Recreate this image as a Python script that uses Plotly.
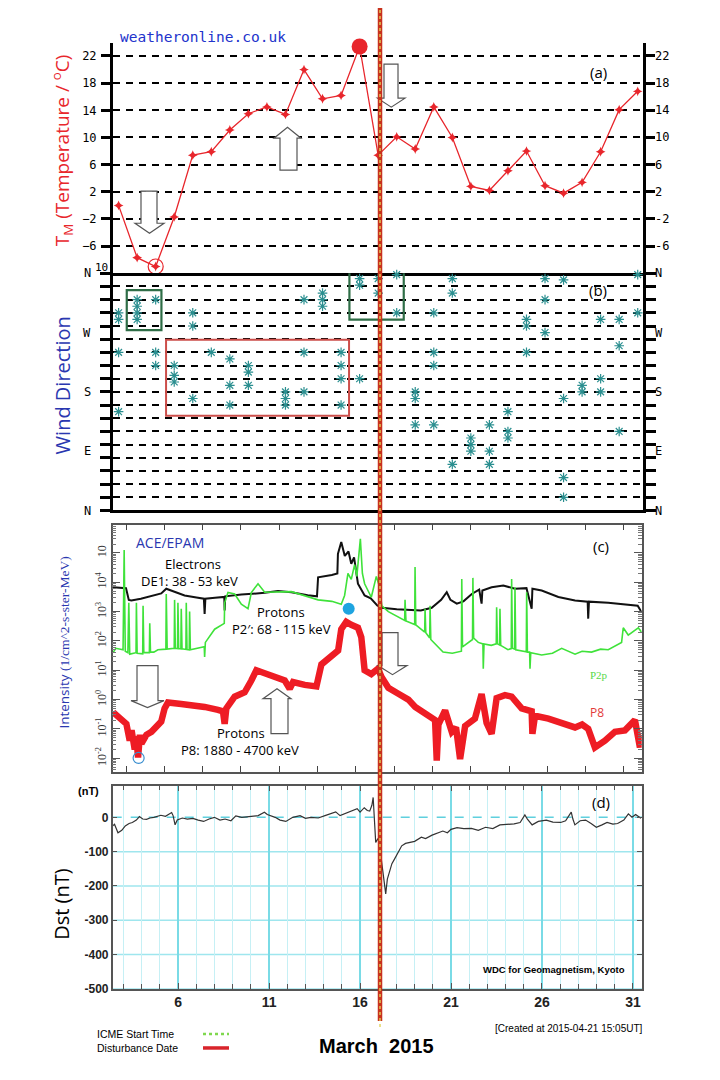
import math
import plotly.graph_objects as go

FIG_W, FIG_H = 720, 1080
PAGE_OFFSET = 8               # page body margin around the figure, px
PAGE_SCALE_Y = 1088 / 1080    # full page (margin + figure) is squeezed to the window height

# ------------------------------------------------------------------ data
# (a) daily mean temperature, degC
temp_days = list(range(3, 32))
temp_c = [0.0, -7.7, -9.0, -1.7, 7.4, 7.9, 11.1, 13.5, 14.5, 13.4,
          20.0, 15.7, 16.2, 23.4, 7.4, 10.1, 8.3, 14.5, 10.0, 2.8,
          2.2, 5.1, 8.0, 2.9, 1.8, 3.4, 7.9, 14.1, 16.8]
temp_ticks = [22, 18, 14, 10, 6, 2, -2, -6]
temp_peak_day = 16
temp_min_day = 5

# (b) wind direction observations (day, degrees; N=0/360, E=90, S=180, W=270)
wind_obs = [(3, 300), (3, 290), (3, 240), (3, 150),
            (4, 320), (4, 310), (4, 300), (4, 290),
            (5, 320), (5, 240), (5, 220),
            (6, 220), (6, 205), (6, 195),
            (7, 300), (7, 280), (7, 170),
            (8, 240),
            (9, 230), (9, 190), (9, 160),
            (10, 220), (10, 210), (10, 190),
            (12, 180), (12, 170), (12, 160),
            (13, 320), (13, 240), (13, 180),
            (14, 330), (14, 320), (14, 310),
            (15, 240), (15, 220), (15, 200), (15, 160),
            (16, 352), (16, 342), (16, 200),
            (17, 352), (17, 330),
            (18, 358), (18, 300),
            (19, 180), (19, 170), (19, 130),
            (20, 300), (20, 240), (20, 220), (20, 130),
            (21, 352), (21, 330), (21, 70),
            (22, 110), (22, 100), (22, 90),
            (23, 130), (23, 90), (23, 70),
            (24, 150), (24, 120), (24, 110),
            (25, 290), (25, 280), (25, 240),
            (26, 352), (26, 320), (26, 270),
            (27, 350), (27, 170), (27, 50), (27, 20),
            (28, 190), (28, 180),
            (29, 290), (29, 200), (29, 180),
            (30, 290), (30, 250), (30, 120),
            (31, 358), (31, 300)]
dir_ticks = list(range(0, 361, 20))
compass_vals = [0, 90, 180, 270, 360]
compass_text = ["N", "E", "S", "W", "N"]

# (c) ACE/EPAM intensities, log10(1/cm^2-s-ster-MeV)
electrons = [(2.70, 3.83), (3.40, 3.80), (3.55, 3.40), (3.69, 3.38), (4.20, 3.44),
             (4.59, 3.50), (5.30, 3.62), (5.57, 3.78), (6.00, 3.68), (6.56, 3.55),
             (7.20, 3.48), (7.60, 3.44), (7.64, 2.92), (7.68, 3.44), (8.20, 3.47),
             (8.70, 3.50), (8.72, 3.04), (8.75, 3.52), (9.62, 3.58), (10.88, 3.64),
             (11.60, 3.70), (12.32, 3.66), (13.20, 3.56), (13.70, 3.52), (13.76, 4.17),
             (14.10, 4.20), (14.50, 4.25), (14.80, 4.30), (14.83, 4.97), (15.01, 5.37),
             (15.20, 4.90), (15.40, 5.05), (15.55, 4.63), (15.70, 4.85), (15.91, 3.95),
             (16.27, 3.55), (16.60, 3.45), (16.95, 3.21), (17.19, 3.13), (18.00, 3.08),
             (18.63, 3.05), (19.30, 3.04), (19.89, 3.13), (20.40, 3.40), (20.70, 3.66),
             (20.90, 3.40), (21.24, 3.27), (21.60, 3.35), (22.05, 3.60), (22.45, 3.75),
             (22.58, 3.27), (22.62, 3.72), (23.12, 3.83), (23.75, 3.89), (24.38, 3.78),
             (25.00, 3.80), (25.28, 3.10), (25.32, 3.78), (25.82, 3.72), (26.72, 3.50),
             (27.62, 3.38), (28.30, 3.34), (28.33, 2.76), (28.37, 3.34), (29.41, 3.30),
             (30.31, 3.24), (31.00, 3.20), (31.21, 2.98)]
protons_p2 = [(2.70, 1.60), (2.85, 1.75), (3.24, 1.70), (3.30, 5.10), (3.36, 1.65),
              (3.50, 1.60), (3.55, 3.30), (3.60, 1.55), (3.94, 1.60), (3.96, 3.30),
              (4.00, 1.58), (4.30, 1.56), (4.32, 3.20), (4.36, 1.60), (4.66, 1.60),
              (4.68, 2.60), (4.72, 1.62), (4.90, 1.62), (5.12, 1.70), (5.55, 1.72),
              (5.57, 3.60), (5.62, 1.72), (6.00, 1.75), (6.02, 3.40), (6.06, 1.75),
              (6.18, 1.74), (6.20, 3.30), (6.24, 1.74), (6.36, 1.73), (6.38, 3.10),
              (6.42, 1.73), (6.63, 1.71), (6.65, 3.30), (6.69, 1.71), (6.81, 1.70),
              (6.83, 3.00), (6.87, 1.70), (7.40, 1.78), (7.62, 1.80), (7.64, 1.45),
              (7.68, 1.95), (8.18, 2.40), (8.60, 2.55), (8.70, 2.60), (8.72, 3.30),
              (8.90, 3.65), (9.26, 3.60), (9.62, 3.25), (9.98, 3.10), (10.16, 3.65),
              (10.52, 3.95), (10.88, 3.66), (12.32, 3.68), (13.76, 3.40), (14.50, 3.35),
              (15.01, 3.25), (15.19, 3.55), (15.37, 4.30), (15.55, 4.10), (15.73, 4.60),
              (15.85, 4.20), (16.04, 5.48), (16.15, 4.30), (16.27, 3.95), (16.63, 3.49),
              (16.90, 4.20), (17.05, 3.90), (17.20, 3.20), (17.55, 3.00), (18.00, 2.85),
              (18.43, 2.70), (18.45, 3.40), (18.50, 2.68), (18.97, 2.56), (18.99, 4.52),
              (19.03, 2.55), (19.51, 2.30), (19.53, 3.10), (19.57, 2.28), (19.78, 2.10),
              (19.80, 3.20), (19.84, 2.05), (20.50, 1.62), (21.00, 1.58), (21.49, 1.65),
              (21.51, 4.11), (21.55, 1.80), (22.09, 2.05), (22.11, 4.15), (22.15, 2.10),
              (22.40, 1.95), (22.65, 1.90), (22.67, 1.05), (22.71, 1.90), (23.10, 1.85),
              (23.37, 1.90), (23.39, 3.15), (23.43, 1.90), (23.55, 1.86), (23.57, 3.10),
              (23.61, 1.85), (24.00, 1.70), (24.18, 1.74), (24.20, 4.11), (24.24, 1.75),
              (24.36, 1.72), (24.38, 3.83), (24.42, 1.70), (24.99, 1.63), (25.01, 3.66),
              (25.05, 1.62), (25.17, 1.62), (25.19, 1.05), (25.23, 1.60), (25.82, 1.52),
              (26.40, 1.58), (26.90, 1.75), (27.62, 1.55), (28.00, 1.65), (28.51, 1.62),
              (29.00, 1.72), (29.41, 1.70), (30.13, 1.95), (30.22, 2.45), (30.49, 2.20),
              (31.03, 2.45), (31.21, 2.30)]
protons_p8 = [(2.70, -0.43), (2.97, -0.60), (3.24, -0.75), (3.42, -0.83), (3.60, -1.40),
              (3.70, -1.05), (3.87, -1.70), (3.95, -1.25), (4.05, -1.97), (4.15, -1.20),
              (4.23, -1.50), (4.50, -1.20), (4.77, -1.10), (5.04, -0.95), (5.30, -0.75),
              (5.48, -0.30), (5.66, -0.10), (6.38, -0.15), (7.10, -0.20), (7.64, -0.25),
              (8.36, -0.35), (8.63, -0.40), (8.72, -0.83), (8.81, -0.30), (9.26, 0.10),
              (9.80, 0.25), (10.16, 0.65), (10.43, 1.00), (10.88, 0.90), (11.42, 0.75),
              (11.96, 0.65), (12.23, 0.37), (12.41, 0.60), (13.04, 0.50), (13.67, 0.45),
              (13.94, 1.20), (14.30, 1.40), (14.84, 1.67), (15.01, 2.40), (15.28, 2.65),
              (15.55, 2.55), (15.91, 2.45), (16.09, 2.13), (16.27, 1.00), (16.63, 0.87),
              (16.99, 1.05), (17.19, 0.76), (17.55, 0.40), (18.09, 0.20), (18.63, 0.00),
              (19.00, -0.25), (19.35, -0.40), (19.70, -0.55), (20.07, -0.70), (20.16, -2.08),
              (20.25, -0.85), (20.61, -0.37), (20.97, -1.10), (21.20, -0.95), (21.42, -2.03),
              (21.69, -0.90), (22.22, -0.65), (22.58, 0.19), (22.85, -0.80), (23.12, -1.17),
              (23.39, 0.05), (23.84, 0.15), (24.20, 0.10), (24.74, -0.30), (25.28, -0.40),
              (25.32, -1.17), (25.46, -0.55), (26.18, -0.65), (26.90, -0.80), (27.62, -0.95),
              (28.00, -0.85), (28.33, -1.00), (28.69, -1.63), (29.23, -1.40), (29.77, -1.10),
              (30.31, -1.05), (30.85, -0.70), (31.12, -1.63), (31.21, -1.20)]
intensity_decades = [-2, -1, 0, 1, 2, 3, 4, 5]
intensity_labels = ["10<sup>-2</sup>", "10<sup>-1</sup>", "10<sup>0</sup>", "10<sup>1</sup>",
                    "10<sup>2</sup>", "10<sup>3</sup>", "10<sup>4</sup>", "10"]
p8_peak_marker = (15.41, 3.10)
p8_min_marker = (4.08, -1.99)

# (d) Dst index, nT
dst = [(2.40, -25), (2.50, -20), (2.69, -45), (2.90, -38), (3.09, -25), (3.30, -18),
       (3.48, -15), (3.70, -8), (3.87, 2), (4.05, -5), (4.26, -6), (4.45, -2),
       (4.66, 0), (4.85, 4), (5.05, 6), (5.30, 3), (5.50, 10), (5.64, 14),
       (5.72, 5), (5.83, -22), (5.95, -8), (6.23, -2), (6.50, -5), (6.81, -3),
       (7.10, -8), (7.40, -12), (7.70, -5), (7.99, 0), (8.30, -8), (8.58, -5),
       (8.90, -10), (9.17, 4), (9.50, 0), (9.95, 3), (10.40, 5), (10.74, 15),
       (10.90, 8), (11.33, 0), (11.60, -8), (11.92, -12), (12.30, 0), (12.70, 5),
       (13.00, -3), (13.29, 0), (13.70, -2), (14.07, 5), (14.40, 10), (14.66, 16),
       (14.90, 5), (15.25, 12), (15.50, 18), (15.84, 25), (16.00, 15), (16.23, 28),
       (16.40, 20), (16.53, 18), (16.65, 35), (16.72, 58), (16.76, 20), (16.86, -73),
       (16.95, -65), (17.02, -60), (17.21, -140), (17.35, -200), (17.41, -223), (17.50, -180),
       (17.61, -160), (17.75, -135), (17.90, -121), (18.10, -100), (18.29, -83), (18.50, -76),
       (18.78, -73), (19.00, -70), (19.37, -58), (19.60, -62), (19.96, -52), (20.20, -48),
       (20.55, -40), (20.80, -45), (21.00, -35), (21.33, -30), (21.70, -33), (22.12, -32),
       (22.50, -38), (22.90, -29), (23.30, -33), (23.69, -22), (24.10, -20), (24.47, -19),
       (24.80, -15), (25.06, 7), (25.20, -5), (25.46, -22), (25.80, -12), (26.24, -8),
       (26.60, -14), (27.03, -15), (27.30, -10), (27.61, 15), (27.70, -5), (27.81, -22),
       (28.10, -10), (28.40, -8), (28.70, -18), (28.99, -29), (29.30, -22), (29.58, -15),
       (29.90, -20), (30.16, -18), (30.50, -8), (30.75, 10), (30.95, 0), (31.15, 8),
       (31.44, -3)]
dst_ticks = [0, -100, -200, -300, -400, -500]
dst_tick_text = ["0", "-100", "-200", "-300", "-400", "-500"]
day_labels = [6, 11, 16, 21, 26, 31]

icme_day = 17.1          # ICME start / disturbance date (panel a day scale)

# ------------------------------------------------------------------ styles
RED = "#e8262c"
TEAL = "#2b8f90"
BLUE = "#2a37b0"
MONO = "DejaVu Sans Mono"
SANS = "Open Sans"
ARIAL = "Liberation Sans"
SERIF = "Liberation Serif"


def P(x, y):
    """screen pixel (as seen in the photographed page) -> paper fraction"""
    fx = x - PAGE_OFFSET
    fy = y * PAGE_SCALE_Y - PAGE_OFFSET
    return fx / FIG_W, 1 - fy / FIG_H


def xdom(x0, x1):
    return [P(x0, 0)[0], P(x1, 0)[0]]


def ydom(top, bottom):
    return [P(0, bottom)[1], P(0, top)[1]]


def block_arrow(sl, sr, hl, hr, tail_y, base_y, tip_y):
    tip_x = (hl + hr) / 2
    pts = [(sl, tail_y), (sr, tail_y), (sr, base_y), (hr, base_y),
           (tip_x, tip_y), (hl, base_y), (sl, base_y)]
    path = "M " + " L ".join("%.5f,%.5f" % P(x, y) for x, y in pts) + " Z"
    return dict(type="path", xref="paper", yref="paper", path=path,
                fillcolor="white", line=dict(color="#555555", width=1.2), layer="above")


fig = go.Figure()

# ---------------- panel (a)
fig.add_trace(go.Scatter(x=temp_days, y=temp_c, mode="lines+markers", xaxis="x", yaxis="y",
                         line=dict(color=RED, width=1.3),
                         marker=dict(symbol="star-diamond", size=7, color=RED),
                         hoverinfo="skip", cliponaxis=False))
pk = temp_days.index(temp_peak_day)
fig.add_trace(go.Scatter(x=[temp_days[pk]], y=[temp_c[pk]], mode="markers", xaxis="x", yaxis="y",
                         marker=dict(size=16, color=RED), cliponaxis=False, hoverinfo="skip"))
mn = temp_days.index(temp_min_day)
fig.add_trace(go.Scatter(x=[temp_days[mn]], y=[temp_c[mn]], mode="markers", xaxis="x", yaxis="y",
                         marker=dict(symbol="circle-open", size=15, color=RED, line=dict(width=1.2)),
                         cliponaxis=False, hoverinfo="skip"))

# ---------------- panel (b)
fig.add_trace(go.Scatter(x=[d for d, _ in wind_obs], y=[v for _, v in wind_obs], mode="markers",
                         xaxis="x2", yaxis="y2",
                         marker=dict(symbol="asterisk-open", size=8, color=TEAL,
                                     line=dict(color=TEAL, width=1.2)),
                         cliponaxis=False, hoverinfo="skip"))

# ---------------- panel (c)
for series, color, width in [(electrons, "#111111", 2.0), (protons_p2, "#3fe23a", 1.6),
                             (protons_p8, "#ee1c24", 6.5)]:
    fig.add_trace(go.Scatter(x=[d for d, _ in series], y=[v for _, v in series], mode="lines",
                             xaxis="x3", yaxis="y3", line=dict(color=color, width=width),
                             hoverinfo="skip"))
fig.add_trace(go.Scatter(x=[p8_peak_marker[0]], y=[p8_peak_marker[1]], mode="markers",
                         xaxis="x3", yaxis="y3", marker=dict(size=12, color="#1ea4e0"),
                         hoverinfo="skip"))
fig.add_trace(go.Scatter(x=[p8_min_marker[0]], y=[p8_min_marker[1]], mode="markers",
                         xaxis="x3", yaxis="y3",
                         marker=dict(symbol="circle-open", size=11, color="#3a8fd0",
                                     line=dict(width=1.2)), hoverinfo="skip"))

# ---------------- panel (d)
fig.add_trace(go.Scatter(x=[d for d, _ in dst], y=[v for _, v in dst], mode="lines",
                         xaxis="x4", yaxis="y4", line=dict(color="#333333", width=1.2),
                         hoverinfo="skip"))

# ------------------------------------------------------------------ axes
XD_AB = xdom(113, 643)
XR_AB = [2.698, 31.285]
TEMP_RANGE = [-10, 23.9]
mono_tick = dict(family=MONO, size=12, color="black")
dash_grid = dict(showgrid=True, gridcolor="black", gridwidth=2, griddash="7px,6px")

minor_log = [n + math.log10(k) for n in range(-3, 6) for k in range(2, 10)]

fig.update_layout(
    width=FIG_W, height=FIG_H, margin=dict(l=0, r=0, t=0, b=0),
    paper_bgcolor="white", plot_bgcolor="white", showlegend=False,
    # (a)
    xaxis=dict(domain=XD_AB, range=XR_AB, anchor="y", showline=True, linecolor="black",
               linewidth=3, showticklabels=False, ticks="", showgrid=False, zeroline=False),
    yaxis=dict(domain=ydom(43, 273), range=TEMP_RANGE, anchor="x",
               tickvals=temp_ticks, ticks="outside", ticklen=9, tickwidth=3, tickcolor="black",
               showline=True, linewidth=3, linecolor="black", mirror="ticks",
               tickfont=mono_tick, zeroline=False, ticklabelstandoff=2, **dash_grid),
    # (b)
    xaxis2=dict(domain=XD_AB, range=XR_AB, anchor="y2", showline=True, linecolor="black",
                linewidth=3, showticklabels=False, ticks="", showgrid=False, zeroline=False),
    yaxis2=dict(domain=ydom(273, 510), range=[0, 360], anchor="x2",
                tickvals=dir_ticks, showticklabels=False, ticks="outside", ticklen=10,
                tickwidth=3, tickcolor="black", showline=True, linewidth=3, linecolor="black",
                mirror="ticks", zeroline=False, **dash_grid),
    # (c)
    xaxis3=dict(domain=xdom(112.5, 641.7), range=[2.671, 31.215], anchor="y3",
                showline=True, linecolor="#555555", linewidth=1.5, mirror="ticks",
                ticks="inside", tick0=3.40, dtick=2.066, ticklen=6, tickcolor="#444444",
                showticklabels=False, showgrid=False, zeroline=False),
    yaxis3=dict(domain=ydom(524, 771), range=[-2.46, 5.97], anchor="x3",
                tickvals=intensity_decades, ticktext=intensity_labels, tickangle=-90,
                ticks="inside", ticklen=8, tickcolor="#555555", showline=True,
                linecolor="#555555", linewidth=1.5, mirror="allticks", showgrid=False,
                zeroline=False, tickfont=dict(family=SERIF, size=12, color="#333333"),
                minor=dict(tickvals=minor_log, ticks="inside", ticklen=4, tickcolor="#777777")),
    # (d)
    xaxis4=dict(domain=xdom(112.7, 642), range=[2.40, 31.50], anchor="y4",
                tickvals=day_labels, ticks="inside", ticklen=6, tickcolor="#555555",
                showgrid=True, gridcolor="#7adbe6", gridwidth=2,
                minor=dict(dtick=1, tick0=0, ticks="inside", ticklen=5, tickcolor="#555555",
                           showgrid=True, gridcolor="#c6f0f5", gridwidth=1),
                showline=True, linecolor="#555555", linewidth=1.5, mirror="allticks",
                zeroline=False, tickfont=dict(family=ARIAL, size=14, color="#222222",
                                              weight="bold")),
    yaxis4=dict(domain=ydom(785, 988), range=[-500, 92], anchor="x4",
                tickvals=dst_ticks, ticktext=dst_tick_text,
                ticks="inside", ticklen=5, tickcolor="#555555", showgrid=False,
                showline=True, linecolor="#555555", linewidth=1.5, mirror="allticks",
                zeroline=False, tickfont=dict(family=ARIAL, size=12, color="#222222",
                                              weight="bold")),
)

# ------------------------------------------------------------------ shapes
shapes = []
# Dst horizontal grid (0 line dashed)
for v in dst_ticks:
    shapes.append(dict(type="line", xref="x4 domain", x0=0, x1=1, yref="y4", y0=v, y1=v,
                       line=dict(color="#9fe6ee" if v else "#5fd0de", width=1.5,
                                 dash="solid" if v else "dash"), layer="below"))
# boxes in wind panel
shapes += [
    dict(type="rect", xref="x2", yref="y2", x0=3.44, x1=5.31, y0=273.6, y1=334.6,
         line=dict(color="#2f6e47", width=2.2)),
    dict(type="rect", xref="x2", yref="y2", x0=15.45, x1=18.38, y0=289.8, y1=362,
         line=dict(color="#2f6e47", width=2.2)),
    dict(type="rect", xref="x2", yref="y2", x0=5.56, x1=15.43, y0=143.9, y1=259.3,
         line=dict(color="#cc4e4a", width=2)),
]
# hollow arrows
shapes += [
    block_arrow(141, 157, 135, 164, 191, 223, 233),
    block_arrow(280, 297, 274, 301, 170, 138, 127),
    block_arrow(384, 398, 377.5, 405, 64, 98, 107),
    block_arrow(137, 158, 131, 164, 665, 700, 707),
    block_arrow(271, 288, 263, 291, 733, 698, 688),
    block_arrow(382, 398, 378, 407, 632, 665, 674),
]
# disturbance date (red) + ICME start (dotted) vertical line
shapes += [
    dict(type="line", xref="x", yref="paper", x0=icme_day, x1=icme_day, y0=P(0, 1020)[1],
         y1=P(0, 0)[1], line=dict(color="#c8321c", width=4.5), layer="above"),
    dict(type="line", xref="x", yref="paper", x0=icme_day, x1=icme_day, y0=P(0, 1026)[1],
         y1=P(0, 0)[1], line=dict(color="#e2d35a", width=1.4, dash="dot"), layer="above"),
]
# legend samples
gx0, gy = P(203, 1033)
gx1, _ = P(229, 1033)
ry = P(0, 1047)[1]
shapes += [
    dict(type="line", xref="paper", yref="paper", x0=gx0, x1=gx1, y0=gy, y1=gy,
         line=dict(color="#7fd84e", width=2.5, dash="dot")),
    dict(type="line", xref="paper", yref="paper", x0=gx0, x1=gx1, y0=ry, y1=ry,
         line=dict(color="#d9242b", width=3.5)),
]
fig.update_layout(shapes=shapes)

# ------------------------------------------------------------------ texts
def txt(x, y, text, size=12, color="black", family=SANS, angle=0, xanchor="center", **kw):
    px_, py_ = P(x, y)
    return dict(x=px_, y=py_, xref="paper", yref="paper", text=text, showarrow=False,
                textangle=angle, xanchor=xanchor, yanchor="middle", borderpad=0,
                font=dict(size=size, color=color, family=family, **kw))


def axis_label(x, yref, yval, text, xanchor):
    return dict(x=P(x, 0)[0], xref="paper", y=yval, yref=yref, text=text, showarrow=False,
                xanchor=xanchor, yanchor="middle", borderpad=0, font=mono_tick)


ann = [
    txt(119, 37, "weatheronline.co.uk", size=14.5, color="#2233cc", family=MONO, xanchor="left"),
    txt(598, 72, "(a)", size=15),
    txt(598, 290, "(b)", size=15),
    txt(601, 545, "(c)", size=15),
    txt(601, 801, "(d)", size=15),
    txt(101, 267, "10", size=11, family=MONO),
    txt(62, 150, "T<sub>M</sub> (Temperature / <sup>o</sup>C)", size=19, color=RED, angle=-90),
    txt(62, 385, "Wind Direction", size=20, color=BLUE, angle=-90),
    txt(64, 642, "Intensity <span style='font-family:Liberation Serif'>(1/cm^2-s-ster-MeV)</span>",
        size=13.5, color=BLUE, angle=-90),
    txt(62, 903, "Dst (nT)", size=20, color="black", angle=-90),
    txt(88, 790, "(nT)", size=11, family=ARIAL, weight="bold"),
    txt(170, 542, "ACE/EPAM", size=14, color=BLUE),
    txt(193, 563, "Electrons", size=13),
    txt(189, 580, "DE1: 38 - 53 keV", size=13),
    txt(281, 611, "Protons", size=13),
    txt(281, 628, "P2\u2032: 68 - 115 keV", size=13),
    txt(241, 732, "Protons", size=13),
    txt(240, 749, "P8: 1880 - 4700 keV", size=13),
    txt(599, 674, "P2p", size=11, color="#58d84a", family=SERIF),
    txt(597, 712, "P8", size=12, color="#e33a3a"),
    txt(626, 969, "WDC for Geomagnetism, Kyoto", size=9.5, family=ARIAL, xanchor="right",
        weight="bold"),
    txt(377, 1045, "March  2015", size=20, family=ARIAL, weight="bold"),
    txt(644, 1028, "[Created at 2015-04-21 15:05UT]", size=10, family=ARIAL, xanchor="right"),
    txt(96, 1033, "ICME Start Time", size=10.5, family=ARIAL, xanchor="left"),
    txt(96, 1047, "Disturbance Date", size=10.5, family=ARIAL, xanchor="left"),
]
# right-hand temperature labels and compass labels on both sides
ann += [axis_label(654, "y", v, str(v), "left") for v in temp_ticks]
ann += [axis_label(92, "y2", v, t, "right") for v, t in zip(compass_vals, compass_text)]
ann += [axis_label(654, "y2", v, t, "left") for v, t in zip(compass_vals, compass_text)]
fig.update_layout(annotations=ann)

fig.write_html("out.html")
